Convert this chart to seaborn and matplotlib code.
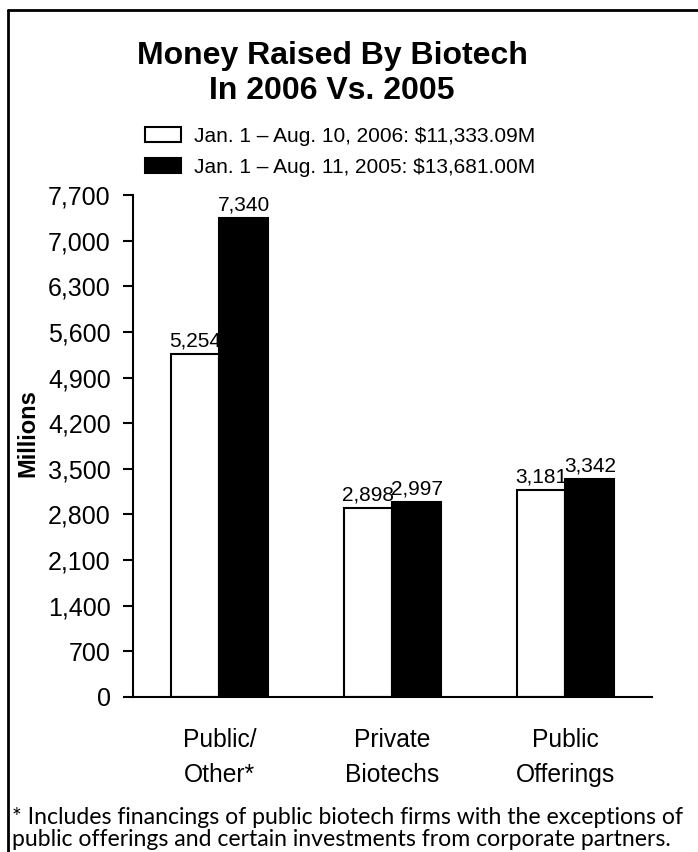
import numpy as np
import pandas as pd
import seaborn as sns
import matplotlib.pyplot as plt
from matplotlib.lines import Line2D

# data
categories = ["Public/\nOther*", "Private\nBiotechs", "Public\nOfferings"]
series_names = ["Jan. 1 \u2013 Aug. 10, 2006: $11,333.09M",
                "Jan. 1 \u2013 Aug. 11, 2005: $13,681.00M"]
values_2006 = [5254, 2898, 3181]
values_2005 = [7340, 2997, 3342]
yticks = [0, 700, 1400, 2100, 2800, 3500, 4200, 4900, 5600, 6300, 7000, 7700]

df = pd.DataFrame({
    "category": categories * 2,
    "period": [series_names[0]] * 3 + [series_names[1]] * 3,
    "value": values_2006 + values_2005,
})

sns.set_style("ticks", {"axes.edgecolor": "black", "text.color": "black",
                        "xtick.color": "black", "ytick.color": "black",
                        "axes.labelcolor": "black"})
plt.rcParams["font.family"] = ["Liberation Sans", "DejaVu Sans"]

fig = plt.figure(figsize=(6.98, 8.52), dpi=100)
ax = fig.add_axes([133 / 698, 1 - 697 / 852, (652 - 133) / 698, (697 - 195) / 852])

sns.barplot(data=df, x="category", y="value", hue="period", order=categories,
            hue_order=series_names, palette=["white", "black"],
            edgecolor="black", linewidth=1.5, width=0.566, gap=0,
            errorbar=None, ax=ax)

for cont in ax.containers:
    ax.bar_label(cont, labels=[f"{v:,.0f}" for v in cont.datavalues],
                 fontsize=15, padding=2.5, color="black")

ax.set_xlim(-0.5, 2.5)
ax.set_ylim(0, 7700)
ax.set_yticks(yticks)
ax.set_yticklabels([f"{t:,}" for t in yticks], fontsize=18)
ax.tick_params(axis="y", length=7, width=1.5, pad=9, colors="black")
ax.tick_params(axis="x", length=0, pad=22, labelsize=17.7, colors="black")
for lab in ax.get_xticklabels():
    lab.set_linespacing(1.6)
ax.set_xlabel("")
ax.set_ylabel("")
for s in ["top", "right"]:
    ax.spines[s].set_visible(False)
ax.spines["left"].set_linewidth(1.5)
ax.spines["bottom"].set_linewidth(1.5)

handles, labels = ax.get_legend_handles_labels()
ax.legend(handles, labels, loc="upper left",
          bbox_to_anchor=(145 / 698, 1 - 127 / 852),
          bbox_transform=fig.transFigure, frameon=False, fontsize=15,
          handlelength=1.75, handleheight=0.75, handletextpad=0.6,
          labelspacing=0.58, borderpad=0, borderaxespad=0,
          labelcolor="black")

fig.text(332 / 698, 1 - 73.5 / 852, "Money Raised By Biotech\nIn 2006 Vs. 2005",
         ha="center", va="center", fontsize=23, fontweight="bold",
         linespacing=1.2, color="black")

fig.text(28 / 698, 1 - 433 / 852, "Millions", rotation=90, ha="center",
         va="center", fontsize=17, fontweight="bold", color="black")

fig.text(12 / 698, 1 - 828.5 / 852,
         "* Includes financings of public biotech firms with the exceptions of\n"
         "public offerings and certain investments from corporate partners.",
         ha="left", va="center", fontsize=16.6, linespacing=1.1,
         family=["Lato", "DejaVu Sans"], color="black")

# outer frame (left and top)
fig.add_artist(Line2D([8 / 698, 8 / 698], [0, 1 - 10 / 852],
                      transform=fig.transFigure, color="black", lw=2))
fig.add_artist(Line2D([8 / 698, 1], [1 - 10 / 852, 1 - 10 / 852],
                      transform=fig.transFigure, color="black", lw=2))

fig.savefig("out.png", dpi=100, facecolor="white")
